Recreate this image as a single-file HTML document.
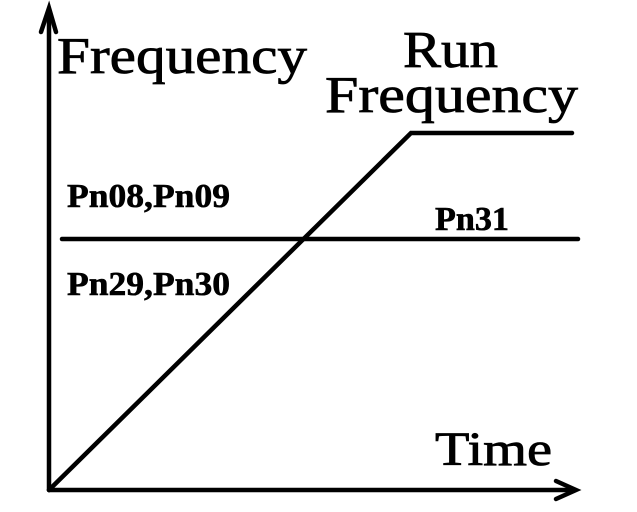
<!DOCTYPE html>
<html><head><style>html,body{margin:0;padding:0;background:#fff}svg{display:block}</style></head>
<body>
<svg width="637" height="512" viewBox="0 0 637 512" xmlns="http://www.w3.org/2000/svg">
<g stroke="#000" stroke-width="4.5" fill="none" stroke-linecap="round">
<line x1="49" y1="12" x2="49" y2="490"/>
<line x1="49" y1="490" x2="574" y2="490"/>
<polyline points="49,490 411,133 572,133"/>
<line x1="62" y1="239" x2="578" y2="239"/>
<polyline points="41,32 49,8 56,32"/>
<polyline points="556,481 576,490 556,499"/>
</g>
<g font-family="'Liberation Serif', serif" fill="#000" stroke="#000" stroke-width="0.8">
<text x="57" y="73" font-size="52" textLength="250" lengthAdjust="spacingAndGlyphs">Frequency</text>
<text x="403" y="67" font-size="52" textLength="95" lengthAdjust="spacingAndGlyphs">Run</text>
<text x="325" y="112" font-size="52" textLength="253" lengthAdjust="spacingAndGlyphs">Frequency</text>
<text x="435" y="465" font-size="48" textLength="117" lengthAdjust="spacingAndGlyphs">Time</text>
<g font-weight="bold" font-size="34" stroke-width="0.6">
<text x="67" y="207" textLength="163" lengthAdjust="spacingAndGlyphs">Pn08,Pn09</text>
<text x="435" y="230" textLength="74" lengthAdjust="spacingAndGlyphs">Pn31</text>
<text x="67" y="295" textLength="163" lengthAdjust="spacingAndGlyphs">Pn29,Pn30</text>
</g>
</g>
</svg>
</body></html>
